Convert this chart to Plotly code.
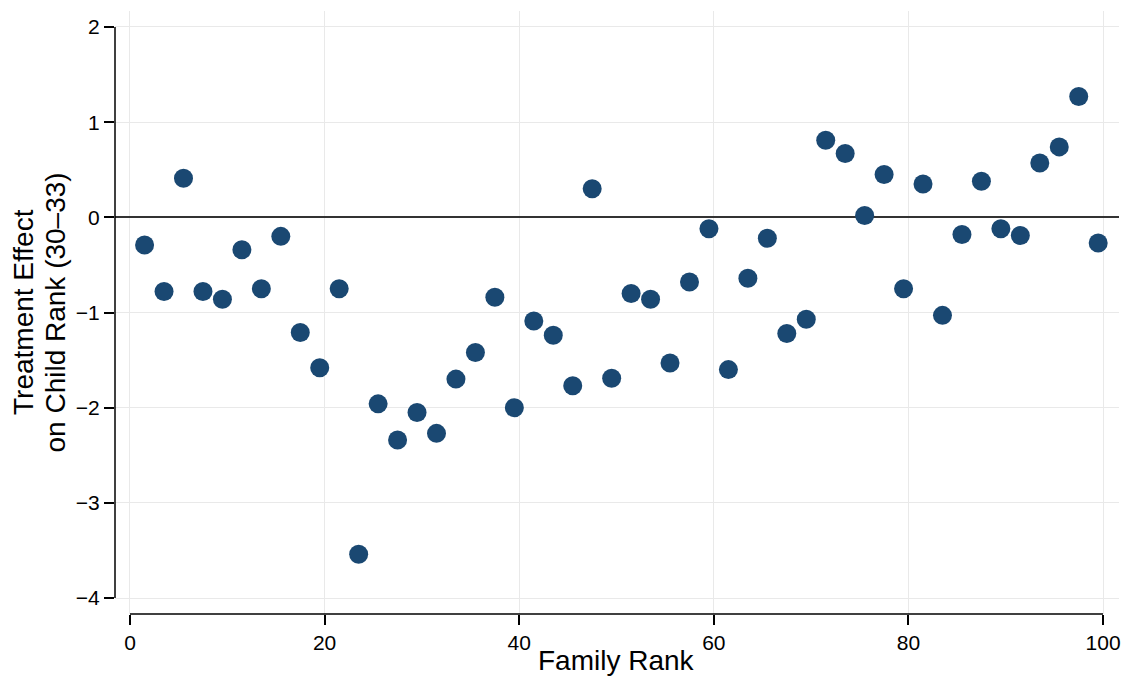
import plotly.graph_objects as go

# Family rank bins (percentile midpoints) and estimated treatment effects
family_rank = [1.5, 3.5, 5.5, 7.5, 9.5, 11.5, 13.5, 15.5, 17.5, 19.5,
               21.5, 23.5, 25.5, 27.5, 29.5, 31.5, 33.5, 35.5, 37.5, 39.5,
               41.5, 43.5, 45.5, 47.5, 49.5, 51.5, 53.5, 55.5, 57.5, 59.5,
               61.5, 63.5, 65.5, 67.5, 69.5, 71.5, 73.5, 75.5, 77.5, 79.5,
               81.5, 83.5, 85.5, 87.5, 89.5, 91.5, 93.5, 95.5, 97.5, 99.5]
treatment_effect = [-0.29, -0.78, 0.41, -0.78, -0.86, -0.34, -0.75, -0.20, -1.21, -1.58,
                    -0.75, -3.54, -1.96, -2.34, -2.05, -2.27, -1.70, -1.42, -0.84, -2.00,
                    -1.09, -1.24, -1.77, 0.30, -1.69, -0.80, -0.86, -1.53, -0.68, -0.12,
                    -1.60, -0.64, -0.22, -1.22, -1.07, 0.81, 0.67, 0.02, 0.45, -0.75,
                    0.35, -1.03, -0.18, 0.38, -0.12, -0.19, 0.57, 0.74, 1.27, -0.27]

x_ticks = [0, 20, 40, 60, 80, 100]
y_ticks = [-4, -3, -2, -1, 0, 1, 2]

FONT = "Liberation Sans, Arial, Helvetica, sans-serif"
MARKER = "#1a4872"
GRID = "#e9e9e9"

fig = go.Figure()
fig.add_trace(go.Scatter(
    x=family_rank, y=treatment_effect, mode="markers",
    marker=dict(size=19, color=MARKER, line=dict(width=0)),
    showlegend=False, hoverinfo="x+y",
))

# Detached axis lines spanning only the labelled range
fig.add_shape(type="line", xref="paper", yref="y", x0=0, x1=0, y0=-4, y1=2,
              line=dict(color="black", width=1.5), layer="above")
fig.add_shape(type="line", xref="x", yref="paper", x0=0, x1=100, y0=0, y1=0,
              line=dict(color="black", width=1.5), layer="above")

# Axis titles
fig.add_annotation(text="Family Rank", xref="x", yref="paper", x=50, y=0,
                   yshift=-46, showarrow=False, yanchor="middle",
                   font=dict(size=28))
fig.add_annotation(text="Treatment Effect", xref="paper", yref="paper",
                   x=0, y=0.5, xshift=-91.5, textangle=-90, showarrow=False,
                   xanchor="center", font=dict(size=28))
fig.add_annotation(text="on Child Rank (30\u201333)", xref="paper", yref="paper",
                   x=0, y=0.5, xshift=-60, textangle=-90, showarrow=False,
                   xanchor="center", font=dict(size=28))

fig.update_layout(
    width=1126, height=678,
    margin=dict(l=115, r=5, t=11, b=64),
    paper_bgcolor="white", plot_bgcolor="white",
    font=dict(family=FONT, color="black", size=21),
)
fig.update_xaxes(
    range=[-1.54, 101.64], tickvals=x_ticks, ticks="outside", ticklen=10,
    tickwidth=1.5, tickcolor="black", showline=False, showgrid=True,
    gridcolor=GRID, gridwidth=1, zeroline=False,
    tickfont=dict(size=21),
)
fig.update_yaxes(
    range=[-4.168, 2.168], tickvals=y_ticks, ticks="outside", ticklen=10,
    tickwidth=1.5, tickcolor="black", showline=False, showgrid=True,
    gridcolor=GRID, gridwidth=1, zeroline=True, zerolinecolor="#333333",
    zerolinewidth=1.8, tickfont=dict(size=21),
)

fig.write_html("out.html")
